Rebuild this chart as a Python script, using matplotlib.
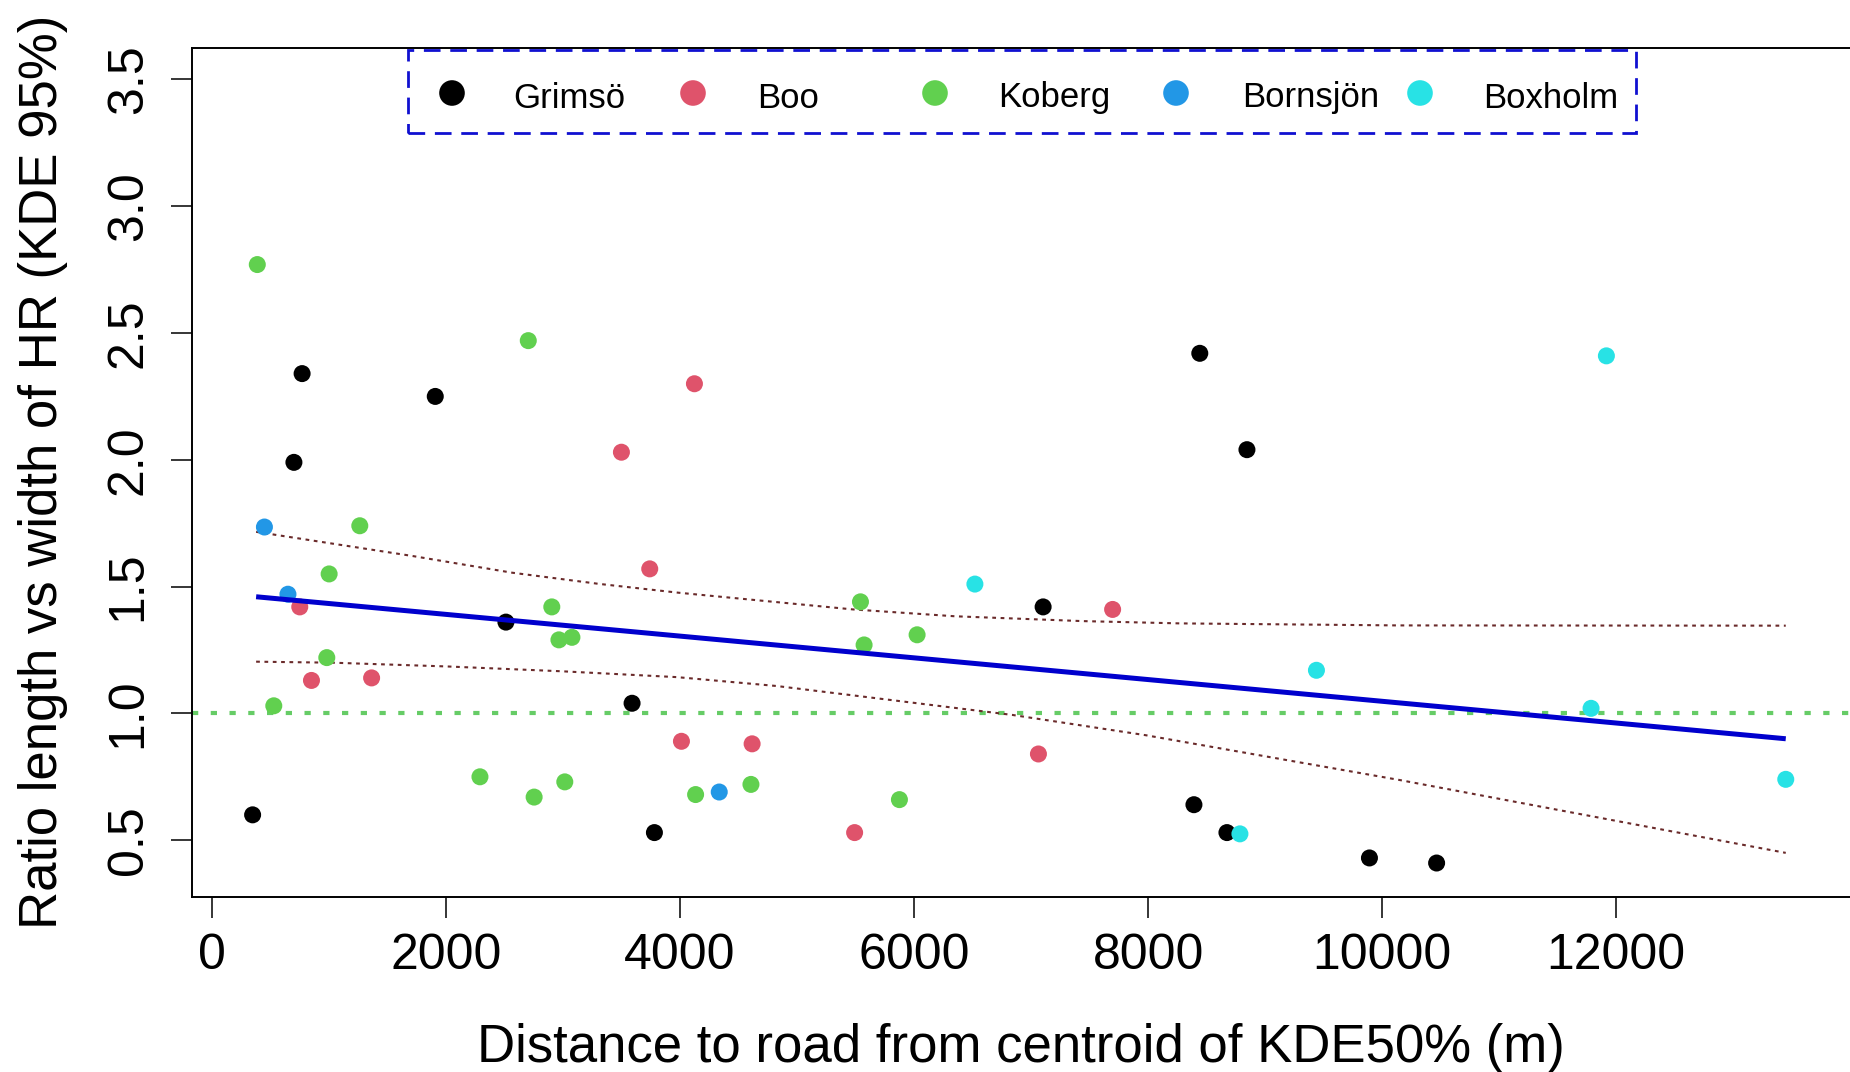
import matplotlib
matplotlib.use("Agg")
import matplotlib.pyplot as plt
from matplotlib.patches import Rectangle

plt.rcParams['font.family'] = ['Liberation Sans', 'DejaVu Sans']

# Data (x = distance in m, y = ratio)
sites = ["Grimsö", "Boo", "Koberg", "Bornsjön", "Boxholm"]
colors = ["#000000", "#DF536B", "#61D04F", "#2297E6", "#28E2E5"]

grimso_x = [347, 770, 700, 1908, 2512, 3590, 3781, 7103, 8442, 8845, 8392, 8674, 9892, 10466]
grimso_y = [0.60, 2.34, 1.99, 2.25, 1.36, 1.04, 0.53, 1.42, 2.42, 2.04, 0.64, 0.53, 0.43, 0.41]

boo_x = [750, 850, 1364, 3499, 4123, 3741, 4012, 4616, 5492, 7063, 7697]
boo_y = [1.42, 1.13, 1.14, 2.03, 2.30, 1.57, 0.89, 0.88, 0.53, 0.84, 1.41]

koberg_x = [387, 1263, 1001, 981, 528, 2703, 2904, 2965, 3076, 2290, 2753, 3015,
            4133, 4606, 5542, 5573, 5875, 6026]
koberg_y = [2.77, 1.74, 1.55, 1.22, 1.03, 2.47, 1.42, 1.29, 1.30, 0.75, 0.67, 0.73,
            0.68, 0.72, 1.44, 1.27, 0.66, 1.31]

bornsjon_x = [448, 649, 4335]
bornsjon_y = [1.735, 1.47, 0.69]

boxholm_x = [6520, 9439, 11917, 11786, 8785, 13450]
boxholm_y = [1.51, 1.17, 2.41, 1.02, 0.525, 0.74]

# fitted line and confidence band
fit_x = [377, 13450]
fit_y = [1.46, 0.90]
upper_x = [377, 1710, 2563, 3303, 3986, 5479, 6350, 7440, 8267, 10130, 13450]
upper_y = [1.716, 1.621, 1.555, 1.511, 1.476, 1.410, 1.383, 1.364, 1.355, 1.347, 1.346]
lower_x = [377, 1030, 2017, 2995, 3975, 4827, 6840, 7980, 10154, 13450]
lower_y = [1.204, 1.200, 1.185, 1.166, 1.143, 1.108, 0.994, 0.914, 0.737, 0.45]

xs = [grimso_x, boo_x, koberg_x, bornsjon_x, boxholm_x]
ys = [grimso_y, boo_y, koberg_y, bornsjon_y, boxholm_y]

fig = plt.figure(figsize=(18.5, 10.72), dpi=100)
W, H = 1850, 1072
ax_l, ax_r, ax_t, ax_b = 192, 1850, 48, 897
ax = fig.add_axes([ax_l / W, 1 - ax_b / H, (ax_r - ax_l) / W, (ax_b - ax_t) / H])

for x, y, c in zip(xs, ys, colors):
    ax.scatter(x, y, s=150, color=c, edgecolors='none', zorder=3)

ax.axhline(1.0, color='#66cc66', lw=3, linestyle=(0, (1.5, 3)), zorder=2)
ax.plot(fit_x, fit_y, color='#0000CD', lw=3.6, zorder=4, solid_capstyle='butt')
ax.plot(upper_x, upper_y, color='#6a2a2a', lw=1.5, linestyle=(0, (1.8, 2.2)), zorder=2)
ax.plot(lower_x, lower_y, color='#6a2a2a', lw=1.5, linestyle=(0, (1.8, 2.2)), zorder=2)

ax.set_xlim(-171, 13999)
ax.set_ylim(0.276, 3.624)
ax.set_xticks([0, 2000, 4000, 6000, 8000, 10000, 12000])
ax.set_yticks([0.5, 1.0, 1.5, 2.0, 2.5, 3.0, 3.5])
ax.set_yticklabels(["0.5", "1.0", "1.5", "2.0", "2.5", "3.0", "3.5"], rotation=90, va='center')
ax.tick_params(direction='out', length=15, width=1.1, labelsize=36, color='black')
ax.tick_params(axis='x', pad=11)
ax.tick_params(axis='y', pad=14)
for side in ['left', 'bottom', 'top']:
    ax.spines[side].set_linewidth(1.4)
ax.spines['right'].set_visible(False)

fig.text((ax_l + ax_r) / 2 / W, 1 - 1062 / H, "Distance to road from centroid of KDE50% (m)",
         fontsize=38, ha='center', va='baseline')
fig.text(57 / W, 1 - 472 / H, "Ratio length vs width of HR (KDE 95%)",
         fontsize=38, rotation=90, rotation_mode='anchor', ha='center', va='baseline')

# legend, drawn by hand in axes fractions
def fx(px):
    return (px - ax_l) / (ax_r - ax_l)

def fy(py):
    return (ax_b - py) / (ax_b - ax_t)

box = Rectangle((fx(408), fy(133)), fx(1636) - fx(408), fy(50) - fy(133),
                transform=ax.transAxes, fill=False, edgecolor='#1010d0', lw=2,
                linestyle=(0, (6, 3.5)), zorder=5, clip_on=False)
ax.add_patch(box)
mark_px = [452, 693, 935, 1176, 1420]
text_px = [513, 757, 998, 1242, 1483]
for name, c, mx, tx in zip(sites, colors, mark_px, text_px):
    ax.scatter([fx(mx)], [fy(93)], s=340, color=c, edgecolors='none',
               transform=ax.transAxes, zorder=6, clip_on=False)
    ax.text(fx(tx), fy(98), name, transform=ax.transAxes, fontsize=25,
            ha='left', va='center', zorder=6)

fig.savefig("out.png", dpi=100, facecolor='white')
